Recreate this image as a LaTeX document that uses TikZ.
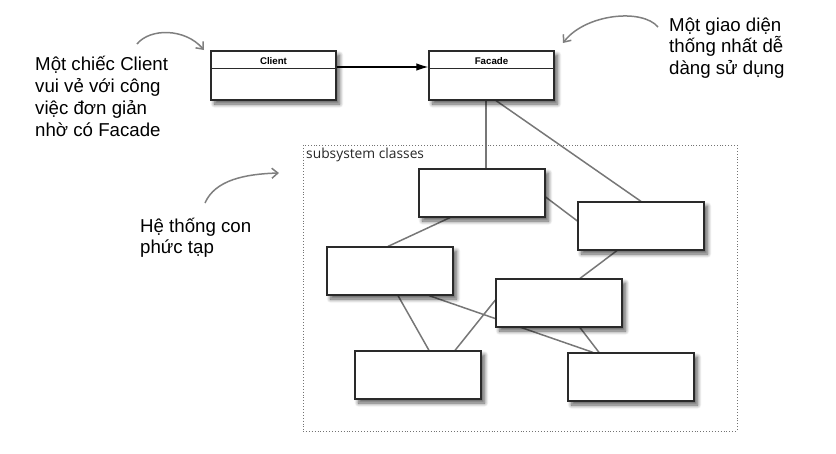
\documentclass[tikz,border=0pt]{standalone}
\usepackage{fontspec}
\setmainfont{Liberation Sans}
\newfontfamily\subfont{Open Sans}
\usetikzlibrary{arrows.meta,shadows.blur,backgrounds,calc}
\definecolor{linegray}{HTML}{777777}
\definecolor{boxline}{HTML}{2A2A2A}
\definecolor{curvegray}{HTML}{7F7F7F}
\tikzset{
  cls/.style={draw=boxline, line width=1.2pt, fill=white, rectangle, minimum width=126pt, minimum height=48pt, inner sep=0pt,
    blur shadow={shadow xshift=3.5pt, shadow yshift=-4pt, shadow blur steps=10, shadow blur radius=4pt, shadow opacity=65}},
  conn/.style={draw=linegray, line width=1.5pt},
  note/.style={font=\fontsize{18.67}{22}\selectfont, anchor=base west, inner sep=0pt},
  curvy/.style={draw=curvegray, line width=1.5pt, -{Straight Barb[length=6pt,width=10pt]}},
  clsname/.style={font=\fontsize{9.7}{11}\selectfont\bfseries, inner sep=0pt}
}
\begin{document}
\begin{tikzpicture}[x=1pt,y=-1pt]
\useasboundingbox (0,0) rectangle (836,453);
% subsystem frame
\node[draw=gray!90!black, line width=0.9pt, dash pattern=on 0.9pt off 2pt, minimum width=434pt, minimum height=286pt, inner sep=0pt] (sub) at (520,288) {};
\node[anchor=base west, inner sep=0pt, font=\subfont\fontsize{13.8}{15}\selectfont, text=black!85] (sublbl) at (306,158) {subsystem classes};
% top classes
\node[cls, minimum width=125pt, minimum height=49pt] (Client) at (273.5,75.5) {};
\node[cls, minimum width=125pt, minimum height=49pt] (Facade) at (491.5,75.5) {};
\draw[boxline, line width=0.9pt] ([yshift=-18pt]Client.north west) -- ([yshift=-18pt]Client.north east);
\draw[boxline, line width=0.9pt] ([yshift=-18pt]Facade.north west) -- ([yshift=-18pt]Facade.north east);
\node[clsname, anchor=base] (clientlbl) at ($(Client.north)+(0,14.5)$) {Client};
\node[clsname, anchor=base] (facadelbl) at ($(Facade.north)+(0,14.5)$) {Facade};
% subsystem classes
\node[cls] (A) at (482,193) {};
\node[cls] (B) at (641,226) {};
\node[cls] (C) at (390,271) {};
\node[cls] (D) at (559,303) {};
\node[cls] (E) at (418,375) {};
\node[cls] (F) at (631,377) {};
\begin{pgfonlayer}{background}
\draw[conn] ([xshift=-5.5pt]Facade.south) -- ([xshift=4pt]A.north);
\draw[conn] ([xshift=4.5pt]Facade.south) -- (B.north);
\draw[conn] ([yshift=-4pt]A.east) -- ([yshift=5pt]B.west);
\draw[conn] ([xshift=-32pt]A.south) -- ([xshift=-2pt]C.north);
\draw[conn] ([xshift=-24pt]B.south) -- ([xshift=21pt]D.north);
\draw[conn] ([xshift=8pt]C.south) -- ([xshift=11pt]E.north);
\draw[conn] ([xshift=39pt]C.south) -- ([xshift=-38pt]F.north);
\draw[conn] ([yshift=3pt]D.west) -- ([xshift=37pt]E.north);
\draw[conn] ([xshift=21pt]D.south) -- ([xshift=-32pt]F.north);
\end{pgfonlayer}
% client -> facade
\draw[black, line width=2.4pt] ([yshift=8.5pt]Client.east) -- ++(18,0);
\draw[black, line width=1.1pt, -{Latex[length=12pt,width=7.5pt]}] ([yshift=8.5pt]Client.east) -- ([yshift=8.5pt]Facade.west);
% notes
\node[note] (n1a) at (35,70) {Một chiếc Client};
\node[note] (n1b) at (35,92) {vui vẻ với công};
\node[note] (n1c) at (35,114) {việc đơn giản};
\node[note] (n1d) at (35,136) {nhờ có Facade};
\node[note] (n2a) at (669,31) {Một giao diện};
\node[note] (n2b) at (669,52.5) {thống nhất dễ};
\node[note] (n2c) at (669,74) {dàng sử dụng};
\node[note] (n3a) at (140,232) {Hệ thống con};
\node[note] (n3b) at (140,253) {phức tạp};
\coordinate (c1s) at (137,44);
\coordinate (c1e) at (204,50);
\coordinate (c2s) at (658,27);
\coordinate (c2e) at (563,43);
\coordinate (c3s) at (205,203);
\coordinate (c3e) at (279,173);
\draw[curvy] (c1s) .. controls (150,28) and (185,28) .. (c1e);
\draw[curvy] (c2s) .. controls (642,8) and (585,14) .. (c2e);
\draw[curvy] (c3s) .. controls (215,180) and (245,174) .. (c3e);
\end{tikzpicture}
\end{document}
